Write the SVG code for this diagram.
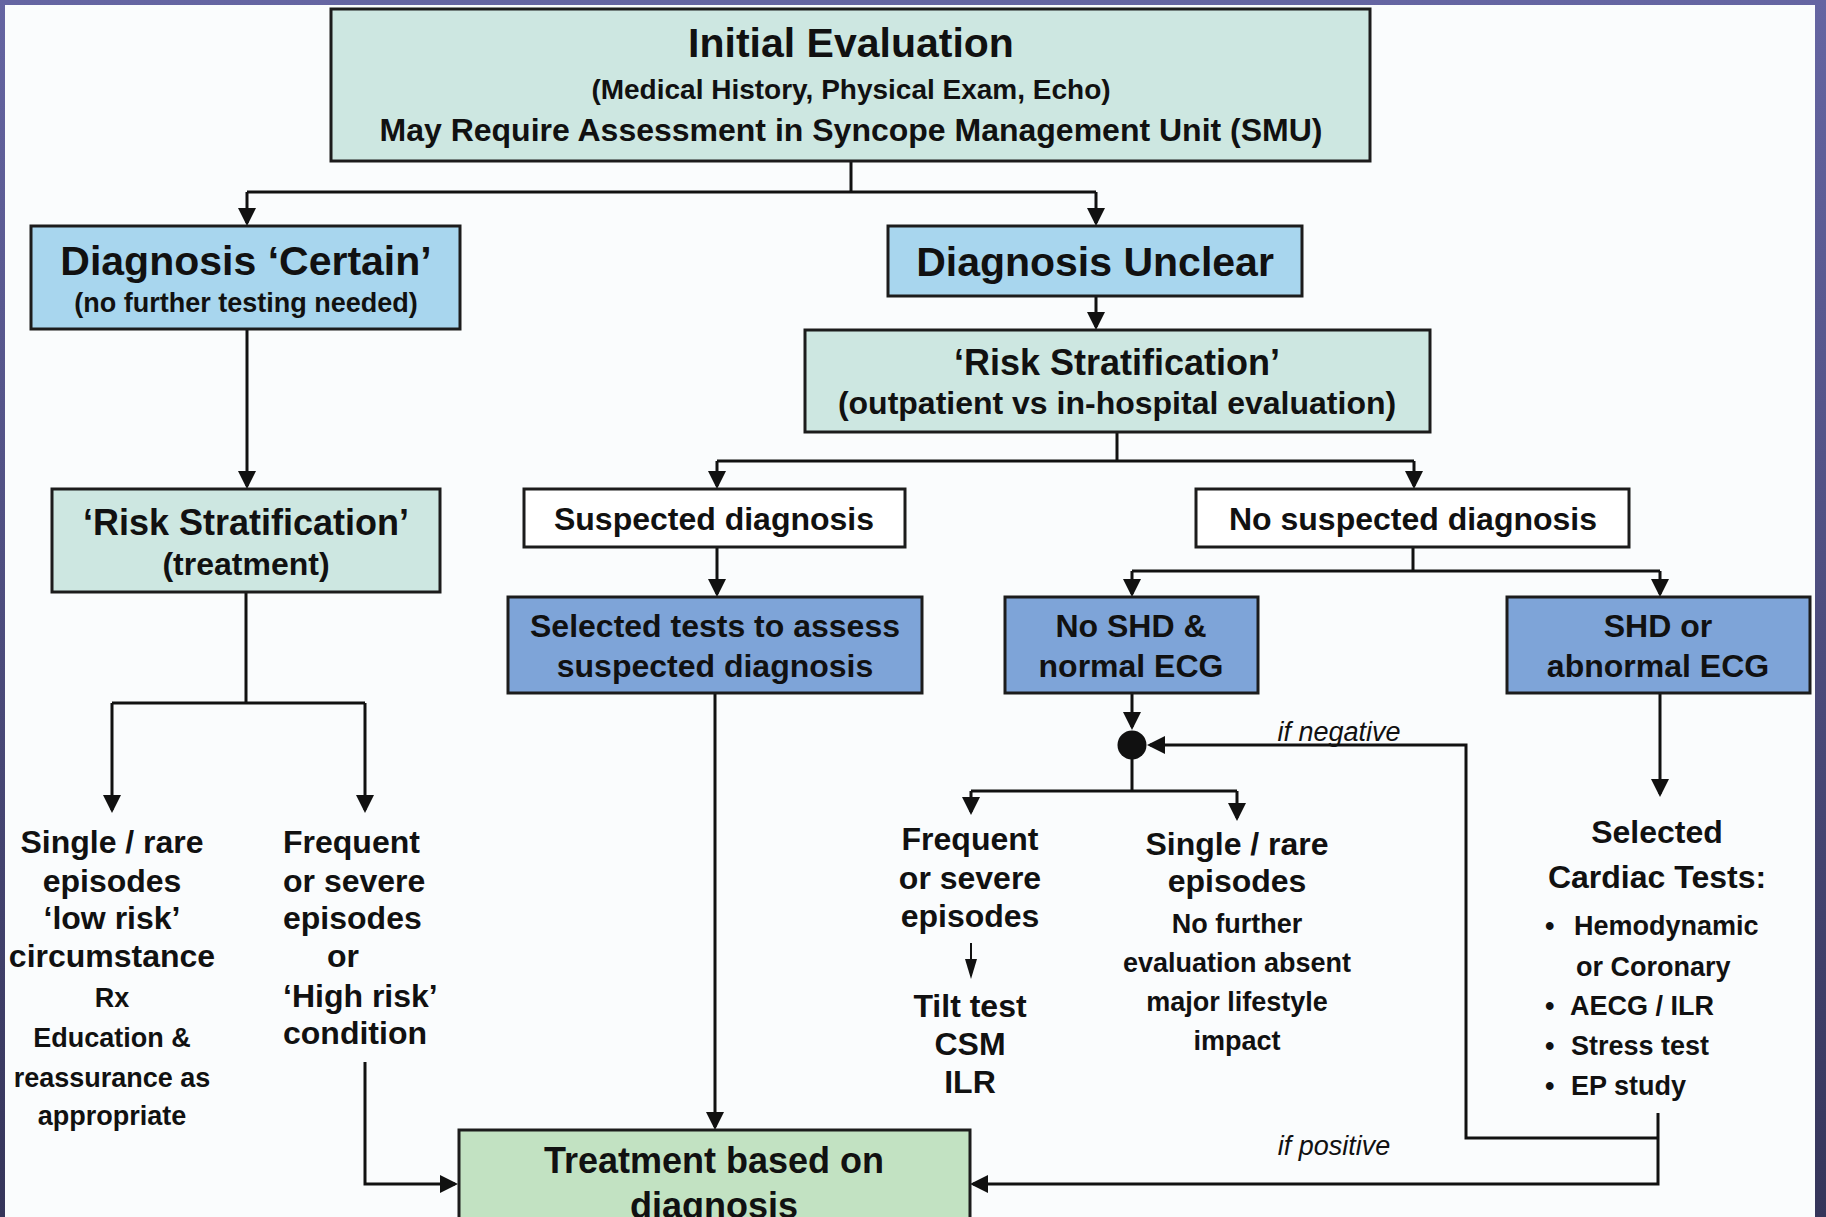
<svg xmlns="http://www.w3.org/2000/svg" width="1826" height="1217" viewBox="0 0 1826 1217">
<defs>
<linearGradient id="frame" x1="0" y1="0" x2="0" y2="1">
<stop offset="0" stop-color="#6565a2"/>
<stop offset="1" stop-color="#35355a"/>
</linearGradient>
<marker id="ah" markerUnits="userSpaceOnUse" markerWidth="18" markerHeight="18" viewBox="0 0 18 18" refX="15" refY="9" orient="auto">
<path d="M0,0 L18,9 L0,18 z" fill="#111"/>
</marker>
<marker id="ahs" markerUnits="userSpaceOnUse" markerWidth="20" markerHeight="12" viewBox="0 0 20 12" refX="17" refY="6" orient="auto">
<path d="M0,0 L20,6 L0,12 z" fill="#111"/>
</marker>
<style>
.box{stroke:#1c1c1c;stroke-width:3}
.teal{fill:#cde7e1}
.lblue{fill:#a8d6ee}
.mblue{fill:#7ea4d8}
.white{fill:#ffffff}
.green{fill:#c2e2c2}
text{font-family:"Liberation Sans",Arial,Helvetica,sans-serif;font-weight:bold;fill:#111;text-anchor:middle}
.t41{font-size:41px}
.t36{font-size:36px}
.t32{font-size:32px}
.t28{font-size:28px}
.t27{font-size:27px}
.it{font-weight:normal;font-style:italic;font-size:27px}
.st{text-anchor:start}
.ln{fill:none;stroke:#111;stroke-width:3}
.ar{marker-end:url(#ah)}
.sm{fill:none;stroke:#111;stroke-width:2;marker-end:url(#ahs)}
</style>
</defs>
<rect x="0" y="0" width="1826" height="1217" fill="url(#frame)"/>
<rect x="5" y="5" width="1810" height="1212" fill="#fafcfd"/>

<g id="connectors">
<path class="ln" d="M851,161 V192"/>
<path class="ln" d="M247,192 H1096"/>
<path class="ln ar" d="M247,192 V223"/>
<path class="ln ar" d="M1096,192 V223"/>
<path class="ln ar" d="M1096,296 V327"/>
<path class="ln ar" d="M247,330 V486"/>
<path class="ln" d="M1117,432 V461"/>
<path class="ln" d="M717,461 H1414"/>
<path class="ln ar" d="M717,461 V486"/>
<path class="ln ar" d="M1414,461 V486"/>
<path class="ln ar" d="M717,547 V594"/>
<path class="ln" d="M1413,547 V571"/>
<path class="ln" d="M1132,571 H1660"/>
<path class="ln ar" d="M1132,571 V594"/>
<path class="ln ar" d="M1660,571 V594"/>
<path class="ln ar" d="M1132,693 V727"/>
<path class="ln ar" d="M1660,693 V794"/>
<path class="ln ar" d="M1658,1138 H1466 V745 H1150"/>
<path class="ln ar" d="M1658,1113 V1184 H973"/>
<path class="ln" d="M1132,759 V791"/>
<path class="ln" d="M971,791 H1237"/>
<path class="ln ar" d="M971,791 V812"/>
<path class="ln ar" d="M1237,791 V818"/>
<path class="sm" d="M971,943 V976"/>
<path class="ln" d="M246,592 V703"/>
<path class="ln" d="M112,703 H365"/>
<path class="ln ar" d="M112,703 V810"/>
<path class="ln ar" d="M365,703 V810"/>
<path class="ln ar" d="M365,1062 V1184 H455"/>
<path class="ln ar" d="M715,693 V1127"/>
<text class="it" x="1339" y="741">if negative</text>
<text class="it" x="1334" y="1155">if positive</text>
</g>

<g id="junction">
<circle cx="1132" cy="745" r="14.5" fill="#111"/>
</g>

<g id="initial-evaluation">
<rect class="box teal" x="331" y="9" width="1039" height="152"/>
<text class="t41" x="851" y="57">Initial Evaluation</text>
<text class="t28" x="851" y="99">(Medical History, Physical Exam, Echo)</text>
<text class="t32" x="851" y="141">May Require Assessment in Syncope Management Unit (SMU)</text>
</g>

<g id="diagnosis-certain">
<rect class="box lblue" x="31" y="226" width="429" height="103"/>
<text class="t41" x="246" y="275">Diagnosis ‘Certain’</text>
<text class="t27" x="246" y="312">(no further testing needed)</text>
</g>

<g id="diagnosis-unclear">
<rect class="box lblue" x="888" y="226" width="414" height="70"/>
<text class="t41" x="1095" y="276">Diagnosis Unclear</text>
</g>

<g id="risk-strat-outpatient">
<rect class="box teal" x="805" y="330" width="625" height="102"/>
<text class="t36" x="1117" y="375">‘Risk Stratification’</text>
<text class="t32" x="1117" y="414">(outpatient vs in-hospital evaluation)</text>
</g>

<g id="risk-strat-treatment">
<rect class="box teal" x="52" y="489" width="388" height="103"/>
<text class="t36" x="246" y="535">‘Risk Stratification’</text>
<text class="t32" x="246" y="575">(treatment)</text>
</g>

<g id="suspected-diagnosis">
<rect class="box white" x="524" y="489" width="381" height="58"/>
<text class="t32" x="714" y="530">Suspected diagnosis</text>
</g>

<g id="no-suspected-diagnosis">
<rect class="box white" x="1196" y="489" width="433" height="58"/>
<text class="t32" x="1413" y="530">No suspected diagnosis</text>
</g>

<g id="selected-tests">
<rect class="box mblue" x="508" y="597" width="414" height="96"/>
<text class="t32" x="715" y="637">Selected tests to assess</text>
<text class="t32" x="715" y="677">suspected diagnosis</text>
</g>

<g id="no-shd">
<rect class="box mblue" x="1005" y="597" width="253" height="96"/>
<text class="t32" x="1131" y="637">No SHD &amp;</text>
<text class="t32" x="1131" y="677">normal ECG</text>
</g>

<g id="shd">
<rect class="box mblue" x="1507" y="597" width="303" height="96"/>
<text class="t32" x="1658" y="637">SHD or</text>
<text class="t32" x="1658" y="677">abnormal ECG</text>
</g>

<g id="low-risk">
<text class="t32" x="112" y="853">Single / rare</text>
<text class="t32" x="112" y="892">episodes</text>
<text class="t32" x="112" y="929">‘low risk’</text>
<text class="t32" x="112" y="967">circumstance</text>
<text class="t27" x="112" y="1007">Rx</text>
<text class="t27" x="112" y="1047">Education &amp;</text>
<text class="t27" x="112" y="1087">reassurance as</text>
<text class="t27" x="112" y="1125">appropriate</text>
</g>

<g id="high-risk">
<text class="t32 st" x="283" y="853">Frequent</text>
<text class="t32 st" x="283" y="892">or severe</text>
<text class="t32 st" x="283" y="929">episodes</text>
<text class="t32 st" x="327" y="967">or</text>
<text class="t32 st" x="283" y="1007">‘High risk’</text>
<text class="t32 st" x="283" y="1044">condition</text>
</g>

<g id="frequent-severe">
<text class="t32" x="970" y="850">Frequent</text>
<text class="t32" x="970" y="889">or severe</text>
<text class="t32" x="970" y="927">episodes</text>
<text class="t32" x="970" y="1017">Tilt test</text>
<text class="t32" x="970" y="1055">CSM</text>
<text class="t32" x="970" y="1093">ILR</text>
</g>

<g id="single-rare">
<text class="t32" x="1237" y="855">Single / rare</text>
<text class="t32" x="1237" y="892">episodes</text>
<text class="t27" x="1237" y="933">No further</text>
<text class="t27" x="1237" y="972">evaluation absent</text>
<text class="t27" x="1237" y="1011">major lifestyle</text>
<text class="t27" x="1237" y="1050">impact</text>
</g>

<g id="cardiac-tests">
<text class="t32" x="1657" y="843">Selected</text>
<text class="t32" x="1657" y="888">Cardiac Tests:</text>
<text class="t27 st" y="935"><tspan x="1545">•</tspan><tspan x="1574">Hemodynamic</tspan></text>
<text class="t27 st" x="1576" y="976">or Coronary</text>
<text class="t27 st" y="1015"><tspan x="1545">•</tspan><tspan x="1570">AECG / ILR</tspan></text>
<text class="t27 st" y="1055"><tspan x="1545">•</tspan><tspan x="1571">Stress test</tspan></text>
<text class="t27 st" y="1095"><tspan x="1545">•</tspan><tspan x="1571">EP study</tspan></text>
</g>

<g id="treatment">
<rect class="box green" x="459" y="1130" width="511" height="100"/>
<text class="t36" x="714" y="1173">Treatment based on</text>
<text class="t36" x="714" y="1218">diagnosis</text>
</g>
</svg>
